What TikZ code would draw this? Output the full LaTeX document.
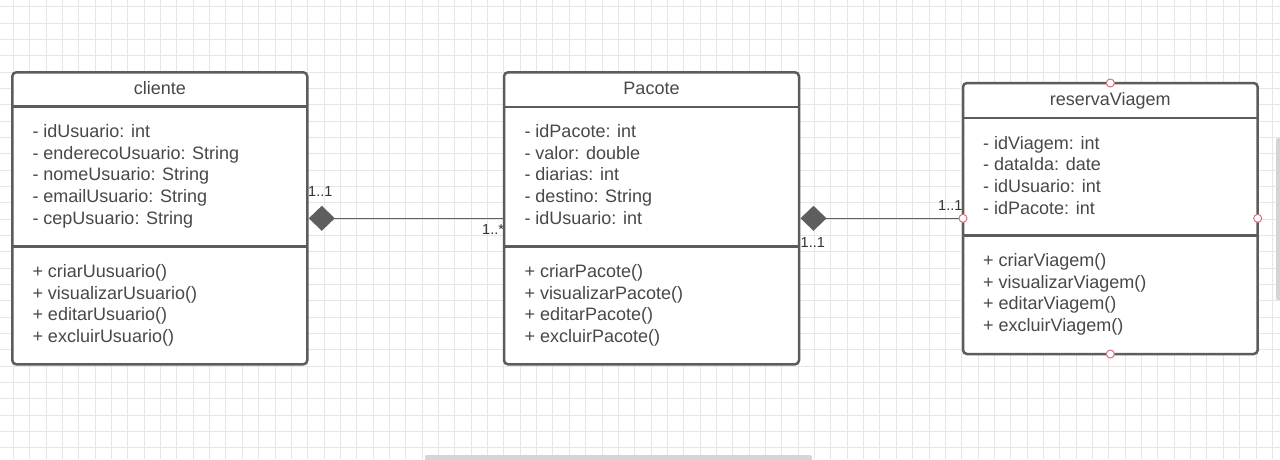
\documentclass[tikz,border=0pt]{standalone}
\usepackage{fontspec}
\setmainfont{Liberation Sans}
\usetikzlibrary{arrows.meta}
\definecolor{gridc}{HTML}{E6E6E6}
\definecolor{boxc}{HTML}{5C5C5C}
\definecolor{txtc}{HTML}{484848}
\definecolor{linec}{HTML}{5E5E5E}
\definecolor{portc}{HTML}{D9707F}
\definecolor{barc}{HTML}{D4D4D9}
\tikzset{
  gridline/.style={draw=gridc, line width=0.8pt},
  classbox/.style={draw=boxc, line width=2.5pt, rounded corners=4pt, fill=white, inner sep=0pt, outer sep=0pt, anchor=north west},
  divider/.style={draw=boxc, line width=2.5pt},
  title/.style={text=txtc, font=\fontsize{18pt}{21.7pt}\selectfont, inner sep=0pt, anchor=base},
  member/.style={text=txtc, font=\fontsize{18pt}{21.7pt}\selectfont, inner sep=0pt, anchor=base west},
  mult/.style={text=black!80, font=\fontsize{14.5pt}{16pt}\selectfont, inner sep=0pt, anchor=base west},
  compo/.style={draw=linec, line width=1.6pt, {Diamond[length=26pt,width=25pt,fill=linec]}-},
  port/.style={circle, draw=portc, fill=white, line width=1pt, minimum size=8pt, inner sep=0pt},
  scrollbar/.style={fill=barc, rounded corners=2pt}
}
\begin{document}
\begin{tikzpicture}[x=1pt,y=-1pt]
\useasboundingbox (0,0) rectangle (1280,459);
\fill[white] (0,0) rectangle (1280,459);
% grid
\foreach \i in {0,...,78} {\draw[gridline] (13.3+\i*16.35,0) -- (13.3+\i*16.35,459);}
\foreach \j in {0,...,28} {\draw[gridline] (0,6.7+\j*16.33) -- (1280,6.7+\j*16.33);}
% scrollbars
\fill[scrollbar] (425,455) rectangle (812,462);
\fill[scrollbar] (1276,138) rectangle (1284,300);

% class cliente
\node[classbox, minimum width=295pt, minimum height=292pt] (cliente) at (12.3,72.3) {};
\draw[divider] (cliente.west |- 0,106.7) -- (cliente.east |- 0,106.7);
\draw[divider] (cliente.west |- 0,246.7) -- (cliente.east |- 0,246.7);
\node[title] (cliente-t) at (159.8,94) {cliente};
\node[member] (c-a1) at (32.3,137.3) {- idUsuario: int};
\node[member] (c-a2) at (32.3,159.0) {- enderecoUsuario: String};
\node[member] (c-a3) at (32.3,180.7) {- nomeUsuario: String};
\node[member] (c-a4) at (32.3,202.4) {- emailUsuario: String};
\node[member] (c-a5) at (32.3,224.1) {- cepUsuario: String};
\node[member] (c-m1) at (32.3,277.3) {+ criarUusuario()};
\node[member] (c-m2) at (32.3,299.0) {+ visualizarUsuario()};
\node[member] (c-m3) at (32.3,320.7) {+ editarUsuario()};
\node[member] (c-m4) at (32.3,342.4) {+ excluirUsuario()};

% class Pacote
\node[classbox, minimum width=295pt, minimum height=292pt] (pacote) at (504,72.3) {};
\draw[divider] (pacote.west |- 0,107) -- (pacote.east |- 0,107);
\draw[divider] (pacote.west |- 0,246.7) -- (pacote.east |- 0,246.7);
\node[title] (pacote-t) at (651.5,94) {Pacote};
\node[member] (p-a1) at (524.3,137.3) {- idPacote: int};
\node[member] (p-a2) at (524.3,159.0) {- valor: double};
\node[member] (p-a3) at (524.3,180.7) {- diarias: int};
\node[member] (p-a4) at (524.3,202.4) {- destino: String};
\node[member] (p-a5) at (524.3,224.1) {- idUsuario: int};
\node[member] (p-m1) at (524.3,277.3) {+ criarPacote()};
\node[member] (p-m2) at (524.3,299.0) {+ visualizarPacote()};
\node[member] (p-m3) at (524.3,320.7) {+ editarPacote()};
\node[member] (p-m4) at (524.3,342.4) {+ excluirPacote()};

% class reservaViagem
\node[classbox, minimum width=294.7pt, minimum height=271pt] (reserva) at (963,83) {};
\draw[divider] (reserva.west |- 0,118) -- (reserva.east |- 0,118);
\draw[divider] (reserva.west |- 0,235.7) -- (reserva.east |- 0,235.7);
\node[title] (reserva-t) at (1110.3,105.5) {reservaViagem};
\node[member] (r-a1) at (983,149.2) {- idViagem: int};
\node[member] (r-a2) at (983,170.9) {- dataIda: date};
\node[member] (r-a3) at (983,192.6) {- idUsuario: int};
\node[member] (r-a4) at (983,214.3) {- idPacote: int};
\node[member] (r-m1) at (983,266.5) {+ criarViagem()};
\node[member] (r-m2) at (983,288.2) {+ visualizarViagem()};
\node[member] (r-m3) at (983,309.9) {+ editarViagem()};
\node[member] (r-m4) at (983,331.6) {+ excluirViagem()};

% connectors
\draw[compo] ([xshift=1.5pt]cliente.east) -- (pacote.west);
\draw[compo] ([xshift=1.5pt]pacote.east) -- (reserva.west |- pacote.east);

% multiplicities
\node[mult] (m1) at (308,196.7) {1..1};
\node[mult] (m2) at (482,234) {1..*};
\node[mult] (m3) at (800.5,247.3) {1..1};
\node[mult] (m4) at (938,210) {1..1};

% connection ports
\node[port] (pt-n) at (reserva.north) {};
\node[port] (pt-s) at (reserva.south) {};
\node[port] (pt-w) at (reserva.west |- pacote.east) {};
\node[port] (pt-e) at (reserva.east |- pacote.east) {};
\end{tikzpicture}
\end{document}
